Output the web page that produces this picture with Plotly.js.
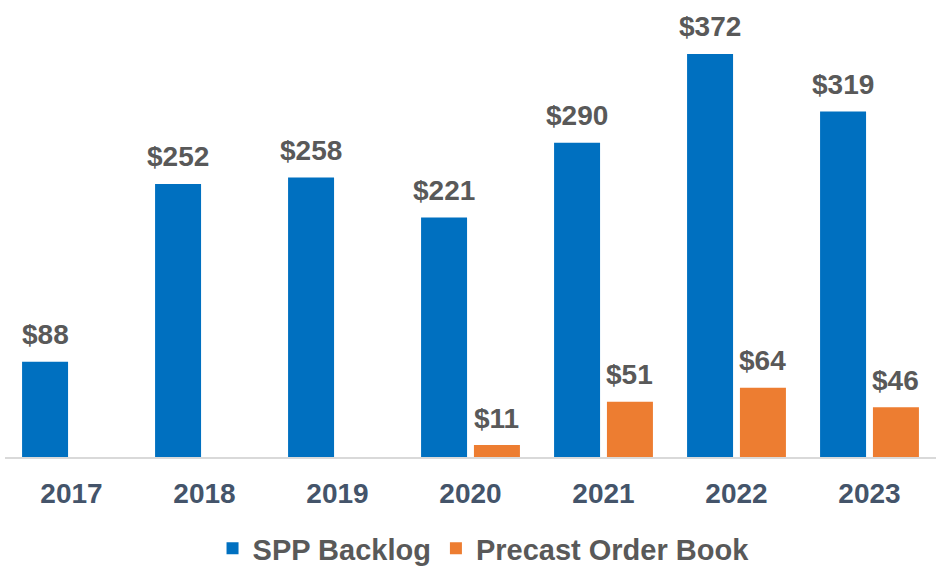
<!DOCTYPE html>
<html><head><meta charset="utf-8">
<script src="https://cdn.plot.ly/plotly-3.0.1.min.js"></script>
<style>html,body{margin:0;padding:0;background:#fff}#c{width:936px;height:570px}</style>
</head><body><div id="c"></div>
<script>
const years = ['2017','2018','2019','2020','2021','2022','2023'];
const sppBacklog = [88, 252, 258, 221, 290, 372, 319];
const precastOrderBook = [null, null, null, 11, 51, 64, 46];
const seriesNames = ['SPP Backlog', 'Precast Order Book'];
const colors = ['#0070C0', '#ED7D31'];

const FONT = 'Liberation Sans, Arial, sans-serif';
const bargap = 0.205, bargroupgap = 0.13;
const slot = (1 - bargap) / 2;

const traces = [sppBacklog, precastOrderBook].map((vals, k) => ({
  type: 'bar', x: years, y: vals, name: seriesNames[k],
  marker: {color: colors[k]}, hoverinfo: 'skip'
}));

const annotations = [];
[sppBacklog, precastOrderBook].forEach((vals, k) => {
  const off = (k === 0 ? -1 : 1) * slot / 2;
  vals.forEach((v, i) => {
    if (v === null) return;
    annotations.push({
      x: i + off, y: v, xref: 'x', yref: 'y', text: '$' + v, showarrow: false,
      yanchor: 'middle', yshift: 27,
      font: {family: FONT, size: 28, color: '#595959', weight: 'bold'}
    });
  });
});

const layout = {
  width: 936, height: 570,
  margin: {l: 5, r: 0, t: 10, b: 113},
  paper_bgcolor: '#fff', plot_bgcolor: '#fff',
  barmode: 'group', bargap: bargap, bargroupgap: bargroupgap,
  showlegend: true,
  legend: {orientation: 'h', x: 0.514, xanchor: 'center', yref: 'container', y: 0.038, yanchor: 'middle',
    font: {family: FONT, size: 29, color: '#595959', weight: 'bold'}, itemwidth: 30},
  xaxis: {type: 'category', showline: true, linecolor: '#D9D9D9', linewidth: 2, ticks: '',
    ticklabelstandoff: 10,
    tickfont: {family: FONT, size: 28, color: '#44546A', weight: 'bold'}, fixedrange: true},
  yaxis: {range: [0, 412.6], visible: false, showgrid: false, zeroline: false, fixedrange: true},
  annotations: annotations
};

Plotly.newPlot('c', traces, layout, {displayModeBar: false, staticPlot: true});
</script></body></html>
